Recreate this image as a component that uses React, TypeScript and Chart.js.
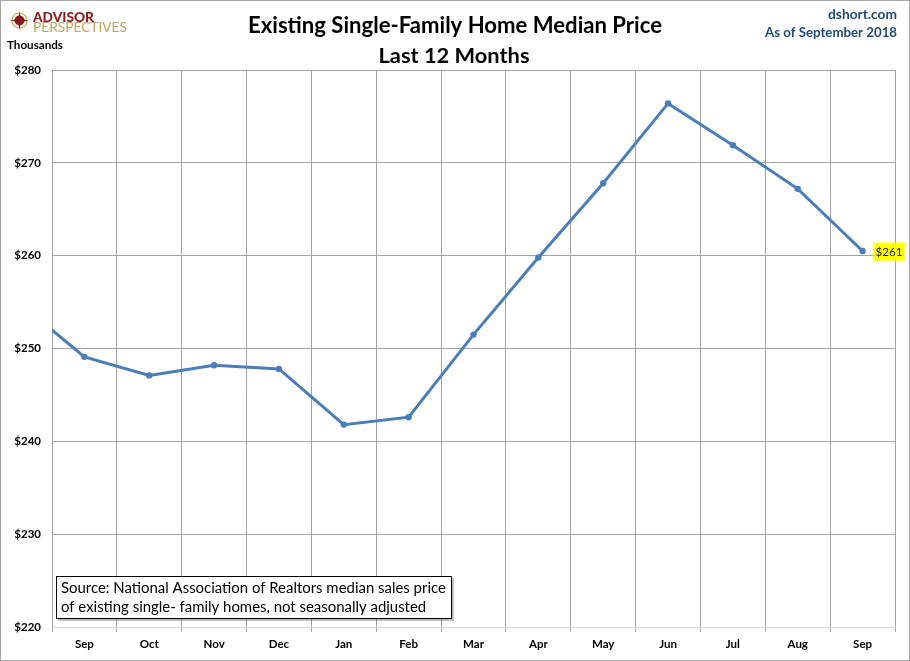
import React, { useEffect, useRef } from "react";
import { Chart, registerables } from "chart.js";

Chart.register(...registerables);

// ---- data ----
const categories = ["Aug", "Sep", "Oct", "Nov", "Dec", "Jan", "Feb", "Mar", "Apr", "May", "Jun", "Jul", "Aug", "Sep"];
const prices = [254.9, 249.1, 247.1, 248.2, 247.8, 241.8, 242.6, 251.5, 259.8, 267.8, 276.4, 271.9, 267.2, 260.5];
const yMin = 220;
const yMax = 280;
const yStep = 10;
const titleLines = ["Existing Single-Family Home Median Price", "Last 12 Months"];
const sourceLines = [
  "Source: National Association of Realtors median sales price",
  "of existing single- family homes, not seasonally adjusted",
];
const siteText = "dshort.com";
const asOfText = "As of September 2018";
const unitText = "Thousands";

const FONT = "Lato, 'Open Sans', sans-serif";
const LINE_COLOR = "#4a7ebb";
const GRID = "#a3a3a3";

function fitFont(ctx: CanvasRenderingContext2D, text: string, weight: string, target: number) {
  ctx.font = `${weight} 20px ${FONT}`;
  const w = ctx.measureText(text).width;
  const size = (20 * target) / w;
  return `${weight} ${size.toFixed(2)}px ${FONT}`;
}

const decorPlugin = {
  id: "decor",
  afterDraw(chart: any) {
    const ctx: CanvasRenderingContext2D = chart.ctx;
    ctx.save();
    // outer frame
    ctx.strokeStyle = "#a6a6a6";
    ctx.lineWidth = 1;
    ctx.strokeRect(0.5, 0.5, chart.width - 1, chart.height - 1);

    // titles
    ctx.fillStyle = "#000";
    ctx.textAlign = "center";
    ctx.textBaseline = "alphabetic";
    ctx.font = fitFont(ctx, titleLines[0], "bold", 414);
    ctx.fillText(titleLines[0], 455, 33);
    ctx.font = fitFont(ctx, titleLines[1], "bold", 151);
    ctx.fillText(titleLines[1], 454, 63);

    // top right
    ctx.fillStyle = "#1f497d";
    ctx.textAlign = "right";
    ctx.textBaseline = "middle";
    ctx.font = fitFont(ctx, siteText, "bold", 69);
    ctx.fillText(siteText, 897, 15);
    ctx.font = fitFont(ctx, asOfText, "bold", 132);
    ctx.fillText(asOfText, 897, 33);

    // unit
    ctx.fillStyle = "#000";
    ctx.textAlign = "left";
    ctx.font = fitFont(ctx, unitText, "bold", 56);
    ctx.fillText(unitText, 7, 45);

    // logo
    const cx = 19.5, cy = 20.5;
    ctx.fillStyle = "#8b1a1a";
    ctx.strokeStyle = "#c9a85a";
    ctx.lineWidth = 1.2;
    ctx.beginPath();
    ctx.arc(cx, cy, 7.5, 0, Math.PI * 2);
    ctx.stroke();
    ctx.beginPath();
    ctx.arc(cx, cy, 5, 0, Math.PI * 2);
    ctx.fill();
    ctx.fillStyle = "#8b1a1a";
    ctx.beginPath();
    const R = 9.5, r = 2;
    for (let i = 0; i < 8; i++) {
      const a = (i * Math.PI) / 4 - Math.PI / 2;
      const rad = i % 2 === 0 ? R : r;
      const px = cx + rad * Math.cos(a);
      const py = cy + rad * Math.sin(a);
      if (i === 0) ctx.moveTo(px, py);
      else ctx.lineTo(px, py);
    }
    ctx.closePath();
    ctx.fill();
    ctx.textAlign = "left";
    ctx.textBaseline = "alphabetic";
    ctx.fillStyle = "#8b1a1a";
    ctx.font = fitFont(ctx, "ADVISOR", "900", 61);
    ctx.fillText("ADVISOR", 33, 22);
    ctx.fillStyle = "#c3a35a";
    ctx.font = fitFont(ctx, "PERSPECTIVES", "normal", 94);
    ctx.fillText("PERSPECTIVES", 33, 32);

    // source box
    const bx = 56, by = 576, bw = 396, bh = 43;
    ctx.fillStyle = "rgba(0,0,0,0.25)";
    ctx.fillRect(bx + 2, by + 2, bw, bh);
    ctx.fillStyle = "#fff";
    ctx.fillRect(bx, by, bw, bh);
    ctx.strokeStyle = "#000";
    ctx.lineWidth = 1;
    ctx.strokeRect(bx + 0.5, by + 0.5, bw - 1, bh - 1);
    ctx.fillStyle = "#000";
    ctx.textBaseline = "middle";
    const sf = fitFont(ctx, sourceLines[0], "normal", 385);
    ctx.font = sf;
    ctx.fillText(sourceLines[0], 61, 588);
    ctx.fillText(sourceLines[1], 61, 607);

    // last value label
    const meta = chart.getDatasetMeta(0);
    const last = meta.data[meta.data.length - 1];
    const label = "$" + Math.round(prices[prices.length - 1]);
    ctx.font = fitFont(ctx, label, "normal", 27);
    const tw = ctx.measureText(label).width;
    const lx = last.x + 13, ly = last.y + 1;
    ctx.fillStyle = "rgba(255,255,0,0.55)";
    ctx.fillRect(lx - 3, ly - 10, tw + 6, 20);
    ctx.fillStyle = "#ffff00";
    ctx.fillRect(lx - 1, ly - 8, tw + 2, 16);
    ctx.fillStyle = "#222";
    ctx.textAlign = "left";
    ctx.textBaseline = "middle";
    ctx.fillText(label, lx, ly);
    ctx.restore();
  },
};

export default function App() {
  const ref = useRef<HTMLCanvasElement | null>(null);
  useEffect(() => {
    document.body.style.margin = "0";
    const canvas = ref.current!;
    const chart = new Chart(canvas, {
      type: "line",
      data: {
        labels: categories,
        datasets: [
          {
            data: prices,
            borderColor: LINE_COLOR,
            backgroundColor: LINE_COLOR,
            borderWidth: 3,
            pointRadius: 3.2,
            pointHoverRadius: 3.2,
            pointBackgroundColor: LINE_COLOR,
            pointBorderWidth: 0,
            tension: 0,
            clip: 0,
          },
        ],
      },
      options: {
        responsive: false,
        animation: false,
        devicePixelRatio: 1,
        layout: { padding: { left: 0, top: 70, right: 15, bottom: 0 } },
        plugins: { legend: { display: false }, tooltip: { enabled: false }, title: { display: false } },
        scales: {
          x: {
            type: "category",
            min: 1,
            max: categories.length - 1,
            offset: true,
            grid: { offset: true, color: GRID, lineWidth: 1, drawTicks: true, tickLength: 5 },
            border: { display: true, color: "#d9d9d9" },
            ticks: {
              color: "#000",
              font: { family: FONT, weight: "bold", size: 11.5 },
              padding: 5,
              maxRotation: 0,
              autoSkip: false,
            },
            afterFit: (s: any) => {
              s.height = 34;
            },
          },
          y: {
            min: yMin,
            max: yMax,
            grid: {
              color: (c: any) => (c.tick && c.tick.value === yMin ? "#d9d9d9" : GRID),
              drawTicks: false,
            },
            border: { display: true, color: GRID },
            ticks: {
              stepSize: yStep,
              padding: 11,
              color: "#000",
              font: { family: FONT, weight: "bold", size: 11.5 },
              callback: (v: any) => "$" + v,
            },
            afterFit: (s: any) => {
              s.width = 52;
            },
          },
        },
      },
      plugins: [decorPlugin],
    });
    return () => chart.destroy();
  }, []);
  return (
    <div style={{ position: "absolute", left: 0, top: 0, width: 910, height: 661, background: "#fff" }}>
      <canvas ref={ref} width={910} height={661} />
    </div>
  );
}
